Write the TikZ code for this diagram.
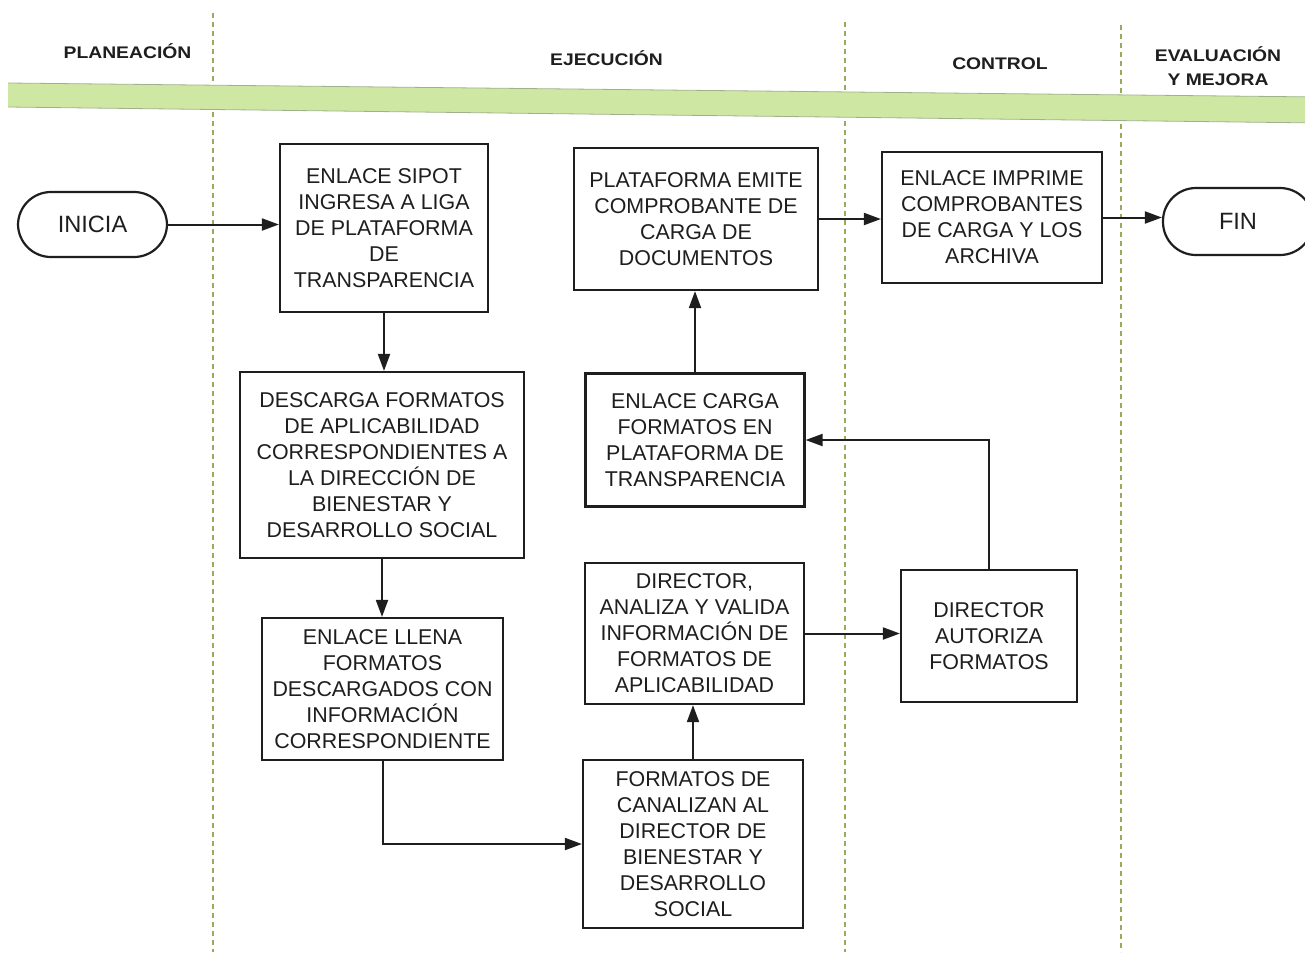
\documentclass[tikz,border=0pt]{standalone}
\usepackage{fontspec}
\setmainfont{Liberation Sans}
\usetikzlibrary{arrows.meta}

\definecolor{ink}{HTML}{1E1E1E}
\definecolor{lanegreen}{RGB}{150,172,92}
\definecolor{bandgreen}{RGB}{206,232,164}
\definecolor{bandedge}{RGB}{160,178,140}

% wide bold caps for the phase titles
\newcommand{\widecaps}[1]{\scalebox{1.15}[1]{#1}}

\begin{document}
\begin{tikzpicture}[x=0.5pt,y=-0.5pt,
  hdr/.style={text=ink, align=center, inner sep=0pt,
    font=\fontsize{8.4}{12}\selectfont\bfseries},
  lane/.style={draw=lanegreen, line width=0.8pt, dash pattern=on 2.5pt off 2pt},
  proc/.style={draw=ink, line width=1.1pt, fill=white, text=ink, align=center,
    inner sep=0pt, font=\fontsize{10.7}{13}\selectfont},
  term/.style={draw=ink, line width=1.1pt, fill=white, text=ink, align=center,
    inner sep=0pt, rounded corners=16.5pt, font=\fontsize{11.8}{14}\selectfont},
  flow/.style={draw=ink, line width=1pt, -{Triangle[length=8.5pt,width=6pt]}}]

\useasboundingbox (0,0) rectangle (1305,954);
\clip (0,0) rectangle (1305,954);
\fill[white] (0,0) rectangle (1305,954);

% lane dividers
\draw[lane] (213,13) -- (213,952);
\draw[lane] (845,22) -- (845,952);
\draw[lane] (1121,25) -- (1121,952);

% phase band
\fill[bandgreen] (8,83) -- (1320,97) -- (1320,123) -- (8,107) -- cycle;
\draw[bandedge, line width=0.4pt] (8,83) -- (1320,97);
\draw[bandedge, line width=0.4pt] (8,107) -- (1320,123);

% phase titles
\node[hdr] (hplan) at (127.5,51) {\widecaps{PLANEACIÓN}};
\node[hdr] (hejec) at (606.5,58) {\widecaps{EJECUCIÓN}};
\node[hdr] (hctrl) at (1000,64) {\widecaps{CONTROL}};
\node[hdr] (heval) at (1218,66) {\widecaps{EVALUACIÓN}\\\widecaps{Y MEJORA}};

% terminals
\node[term, minimum width=74.5pt, minimum height=32.5pt] (inicia) at (92.5,224.5) {INICIA};
\node[term, minimum width=75pt, minimum height=33.5pt] (fin) at (1238,221.5) {FIN};

% process steps
\node[proc, minimum width=104pt, minimum height=84pt] (b1) at (384,228)
  {ENLACE SIPOT\\INGRESA A LIGA\\DE PLATAFORMA\\DE\\TRANSPARENCIA};
\node[proc, minimum width=142pt, minimum height=93pt] (b2) at (382,465)
  {DESCARGA FORMATOS\\DE APLICABILIDAD\\CORRESPONDIENTES A\\LA DIRECCIÓN DE\\BIENESTAR Y\\DESARROLLO SOCIAL};
\node[proc, minimum width=120.5pt, minimum height=71pt] (b3) at (382.5,689)
  {ENLACE LLENA\\FORMATOS\\DESCARGADOS CON\\INFORMACIÓN\\CORRESPONDIENTE};
\node[proc, minimum width=110pt, minimum height=84pt] (b4) at (693,844)
  {FORMATOS DE\\CANALIZAN AL\\DIRECTOR DE\\BIENESTAR Y\\DESARROLLO\\SOCIAL};
\node[proc, minimum width=109.5pt, minimum height=70.5pt] (b5) at (694.5,633.5)
  {DIRECTOR,\\ANALIZA Y VALIDA\\INFORMACIÓN DE\\FORMATOS DE\\APLICABILIDAD};
\node[proc, minimum width=88pt, minimum height=66pt] (b6) at (989,636)
  {DIRECTOR\\AUTORIZA\\FORMATOS};
\node[proc, minimum width=109.5pt, minimum height=66.5pt] (b7) at (695,440)
  {ENLACE CARGA\\FORMATOS EN\\PLATAFORMA DE\\TRANSPARENCIA};
\node[proc, minimum width=122pt, minimum height=71pt] (b8) at (696,219)
  {PLATAFORMA EMITE\\COMPROBANTE DE\\CARGA DE\\DOCUMENTOS};
\node[proc, minimum width=110pt, minimum height=65.5pt] (b9) at (992,217.5)
  {ENLACE IMPRIME\\COMPROBANTES\\DE CARGA Y LOS\\ARCHIVA};

% connectors
\draw[flow] (inicia.east) -- (inicia.east -| b1.west);
\draw[flow] (b1.south) -- (b1.south |- b2.north);
\draw[flow] (b2.south) -- (b2.south |- b3.north);
\draw[flow] (b3.south) |- (b4.west);
\draw[flow] (b4.north) -- (b4.north |- b5.south);
\draw[flow] (b5.east) -- (b5.east -| b6.west);
\draw[flow] (b6.north) |- (b7.east);
\draw[flow] (b7.north) -- (b7.north |- b8.south);
\draw[flow] (b8.east) -- (b8.east -| b9.west);
\draw[flow] (b9.east) -- (b9.east -| fin.west);

\end{tikzpicture}
\end{document}
